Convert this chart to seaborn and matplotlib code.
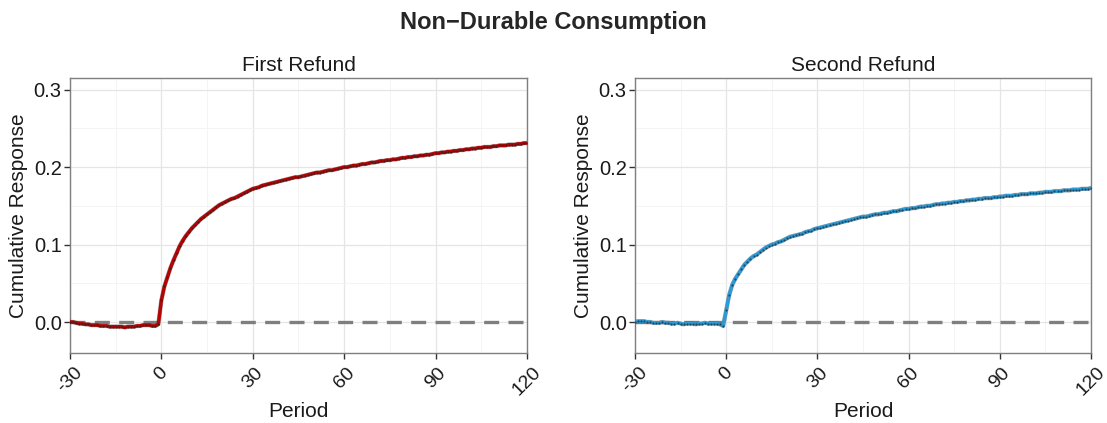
import numpy as np
import pandas as pd
import matplotlib
matplotlib.use("Agg")
import matplotlib.pyplot as plt
import seaborn as sns
from matplotlib.ticker import MultipleLocator

# Data
periods = list(range(-30, 121))

first_refund = [
    0.000, 0.000, -0.001, -0.002, -0.002, -0.003, -0.003, -0.004, -0.004, -0.004,
    -0.005, -0.005, -0.005, -0.006, -0.006, -0.006, -0.006, -0.006, -0.007, -0.006,
    -0.006, -0.006, -0.005, -0.005, -0.004, -0.004, -0.004, -0.005, -0.005, -0.003,
    0.028, 0.046, 0.058, 0.070, 0.080, 0.089, 0.098, 0.105, 0.111, 0.116,
    0.121, 0.125, 0.129, 0.133, 0.136, 0.139, 0.142, 0.145, 0.148, 0.151,
    0.153, 0.155, 0.157, 0.159, 0.160, 0.162, 0.164, 0.166, 0.168, 0.170,
    0.172, 0.173, 0.174, 0.176, 0.177, 0.178, 0.179, 0.180, 0.181, 0.182,
    0.183, 0.184, 0.185, 0.186, 0.187, 0.187, 0.188, 0.189, 0.190, 0.191,
    0.192, 0.193, 0.193, 0.194, 0.195, 0.196, 0.196, 0.197, 0.198, 0.199,
    0.200, 0.200, 0.201, 0.202, 0.202, 0.203, 0.204, 0.204, 0.205, 0.206,
    0.206, 0.207, 0.208, 0.208, 0.209, 0.209, 0.210, 0.210, 0.211, 0.212,
    0.212, 0.213, 0.213, 0.214, 0.214, 0.215, 0.215, 0.216, 0.216, 0.217,
    0.218, 0.218, 0.219, 0.219, 0.220, 0.220, 0.221, 0.221, 0.222, 0.222,
    0.223, 0.223, 0.224, 0.224, 0.225, 0.225, 0.226, 0.226, 0.226, 0.227,
    0.227, 0.228, 0.228, 0.228, 0.229, 0.229, 0.229, 0.230, 0.230, 0.231, 0.231,
]

second_refund = [
    0.000, 0.001, 0.001, 0.001, 0.000, 0.000, -0.001, -0.001, -0.001, 0.000,
    -0.001, -0.001, -0.002, -0.002, -0.001, -0.002, -0.003, -0.002, -0.002, -0.002,
    -0.003, -0.002, -0.002, -0.001, -0.002, -0.002, -0.002, -0.002, -0.003, -0.005,
    0.015, 0.035, 0.048, 0.056, 0.062, 0.068, 0.074, 0.078, 0.082, 0.085,
    0.087, 0.090, 0.093, 0.096, 0.098, 0.100, 0.101, 0.103, 0.104, 0.106,
    0.108, 0.110, 0.111, 0.112, 0.113, 0.114, 0.116, 0.117, 0.118, 0.120,
    0.121, 0.122, 0.123, 0.124, 0.125, 0.126, 0.127, 0.128, 0.129, 0.130,
    0.131, 0.132, 0.133, 0.134, 0.135, 0.136, 0.136, 0.137, 0.138, 0.139,
    0.139, 0.140, 0.141, 0.141, 0.142, 0.143, 0.143, 0.144, 0.145, 0.146,
    0.146, 0.147, 0.147, 0.148, 0.149, 0.149, 0.150, 0.150, 0.151, 0.152,
    0.152, 0.153, 0.153, 0.154, 0.154, 0.155, 0.155, 0.156, 0.156, 0.157,
    0.157, 0.158, 0.158, 0.159, 0.159, 0.160, 0.160, 0.160, 0.161, 0.161,
    0.162, 0.162, 0.163, 0.163, 0.163, 0.164, 0.164, 0.165, 0.165, 0.165,
    0.166, 0.166, 0.166, 0.167, 0.167, 0.168, 0.168, 0.168, 0.169, 0.169,
    0.169, 0.170, 0.170, 0.170, 0.171, 0.171, 0.171, 0.172, 0.172, 0.172, 0.173,
]

panel_titles = ["First Refund", "Second Refund"]
panel_colors = ["#B40404", "#2B9AD9"]
x_ticks = [-30, 0, 30, 60, 90, 120]
y_ticks = [0.0, 0.1, 0.2, 0.3]

sns.set_theme(style="white")
plt.rcParams["font.family"] = ["Liberation Sans", "DejaVu Sans"]

fig = plt.figure(figsize=(11.07, 4.23), dpi=100)
ax_left = fig.add_axes([0.0632, 0.1655, 0.4128, 0.650])
ax_right = fig.add_axes([0.5736, 0.1655, 0.4119, 0.650])

for ax, title, color, vals in zip([ax_left, ax_right], panel_titles, panel_colors,
                                  [first_refund, second_refund]):
    df = pd.DataFrame({"Period": periods, "Response": vals})
    ax.axhline(0, color="#7F7F7F", linestyle=(0, (4.5, 2.8)), linewidth=2.4, zorder=2)
    # thin dark halo, coloured line, then small black points like the original
    sns.lineplot(data=df, x="Period", y="Response", ax=ax, color="#444444",
                 linewidth=3.1, alpha=0.45, zorder=3)
    sns.lineplot(data=df, x="Period", y="Response", ax=ax, color=color,
                 linewidth=2.5, zorder=4)
    sns.scatterplot(data=df, x="Period", y="Response", ax=ax, color="#222222",
                    s=2.5, linewidth=0, alpha=0.7, zorder=5)

    ax.set_xlim(-30, 120)
    ax.set_ylim(-0.040, 0.315)
    ax.set_xticks(x_ticks)
    ax.set_xticklabels([str(t) for t in x_ticks], rotation=45, ha="center",
                       fontsize=14, color="#1a1a1a")
    ax.set_yticks(y_ticks)
    ax.set_yticklabels([f"{t:.1f}" for t in y_ticks], fontsize=14.5, color="#1a1a1a")
    ax.xaxis.set_minor_locator(MultipleLocator(15))
    ax.yaxis.set_minor_locator(MultipleLocator(0.05))
    ax.grid(which="major", color="#E5E5E5", linewidth=0.9, zorder=0)
    ax.grid(which="minor", color="#F3F3F3", linewidth=0.6, zorder=0)
    ax.set_axisbelow(True)
    ax.tick_params(axis="x", which="major", direction="out", length=4,
                   width=1, color="#333333", bottom=True, pad=4)
    ax.tick_params(axis="y", which="major", direction="out", length=4,
                   width=1, color="#333333", left=True, pad=2)
    ax.tick_params(which="minor", length=0)
    for sp in ax.spines.values():
        sp.set_color("#7F7F7F")
        sp.set_linewidth(1.0)
    ax.set_title(title, fontsize=15, pad=5, color="#1a1a1a")
    ax.set_xlabel("Period", fontsize=15, labelpad=2, color="#1a1a1a")
    ax.set_ylabel("Cumulative Response", fontsize=15, labelpad=4, color="#1a1a1a")

fig.suptitle("Non\u2212Durable Consumption", fontsize=17, fontweight="bold",
             y=0.975)

fig.savefig("out.png", dpi=100)
